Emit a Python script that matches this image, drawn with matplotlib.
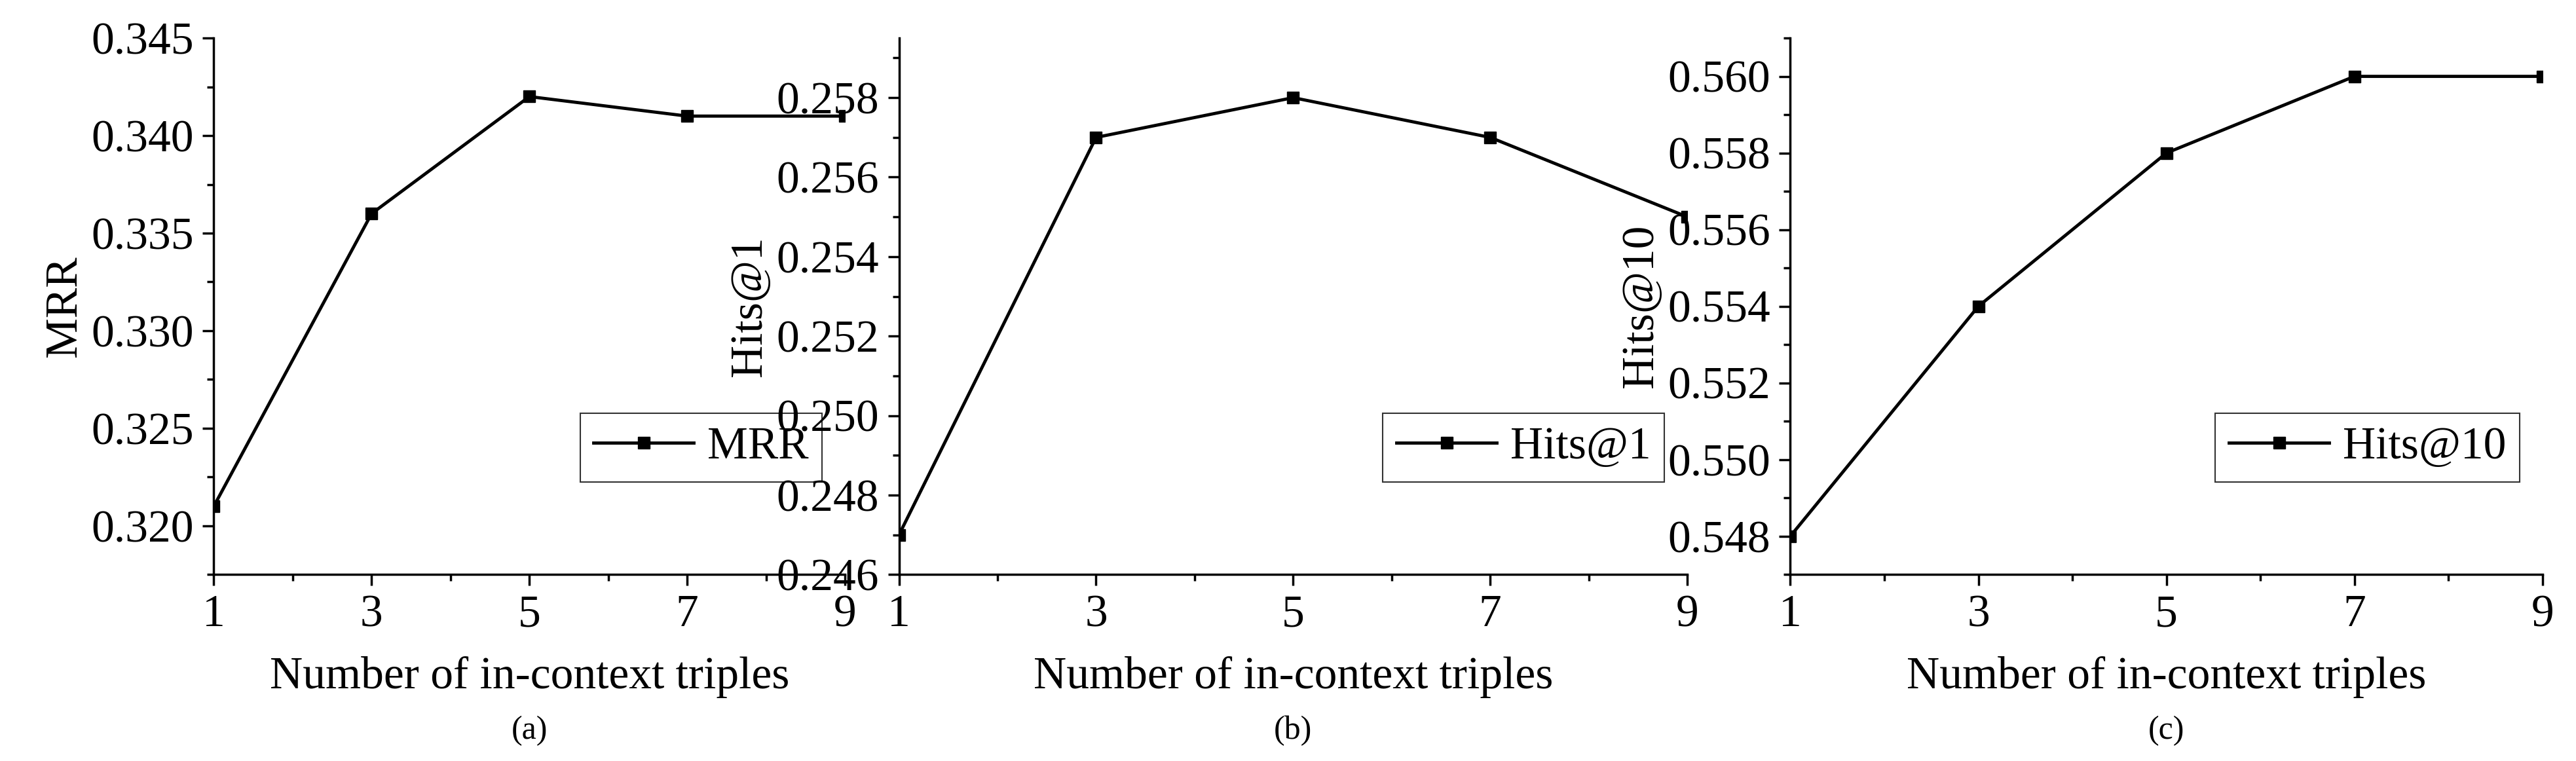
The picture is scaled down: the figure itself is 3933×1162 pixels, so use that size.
import matplotlib
matplotlib.use("Agg")
import matplotlib.pyplot as plt
from matplotlib.ticker import MultipleLocator, FormatStrFormatter
import numpy as np

x = [1, 3, 5, 7, 9]
mrr = [0.321, 0.336, 0.342, 0.341, 0.341]
hits1 = [0.247, 0.257, 0.258, 0.257, 0.255]
hits10 = [0.548, 0.554, 0.558, 0.560, 0.560]
names = ["MRR", "Hits@1", "Hits@10"]
subcaps = ["(a)", "(b)", "(c)"]

plt.rcParams['font.family'] = ['Liberation Serif', 'DejaVu Serif']
fig = plt.figure(figsize=(39.33, 11.62), dpi=100)
boxes = [(0.083, 0.328), (0.349, 0.655), (0.695, 0.987)]
ylims = [(0.3175, 0.345), (0.246, 0.2595), (0.547, 0.561)]
yticks = [(0.320, 0.3451, 0.005), (0.246, 0.2581, 0.002), (0.548, 0.5601, 0.002)]
series = [mrr, hits1, hits10]
for i in range(3):
    l, r = boxes[i]
    ax = fig.add_axes([l, 0.245, r - l, 0.705])
    ax.plot(x, series[i], color='black', lw=3.5, marker='s', ms=13, label=names[i])
    ax.set_xlim(1, 9)
    ax.set_ylim(*ylims[i])
    ax.set_xticks(x)
    ax.xaxis.set_minor_locator(MultipleLocator(1))
    a, b, s = yticks[i]
    ax.set_yticks(np.arange(a, b, s))
    ax.yaxis.set_minor_locator(MultipleLocator(s / 2))
    ax.yaxis.set_major_formatter(FormatStrFormatter('%.3f'))
    for sp in ['top', 'right']:
        ax.spines[sp].set_visible(False)
    for sp in ['left', 'bottom']:
        ax.spines[sp].set_linewidth(2.5)
    ax.tick_params(which='major', direction='out', length=12, width=2.5, labelsize=50, pad=10)
    ax.tick_params(which='minor', direction='out', length=7, width=2.5)
    ax.set_ylabel(names[i], fontsize=50, labelpad=6)
    ax.set_xlabel("Number of in-context triples", fontsize=50, labelpad=22)
    leg = ax.legend(loc='lower right', bbox_to_anchor=(1.0, 0.13), fontsize=50, fancybox=False,
                    edgecolor='black', handlelength=2.2, borderpad=0.3, handletextpad=0.3)
    leg.get_frame().set_linewidth(1.5)
    fig.text((l + r) / 2, 0.02, subcaps[i], ha='center', va='bottom', fontsize=36)
fig.savefig("out.png", dpi=100)
